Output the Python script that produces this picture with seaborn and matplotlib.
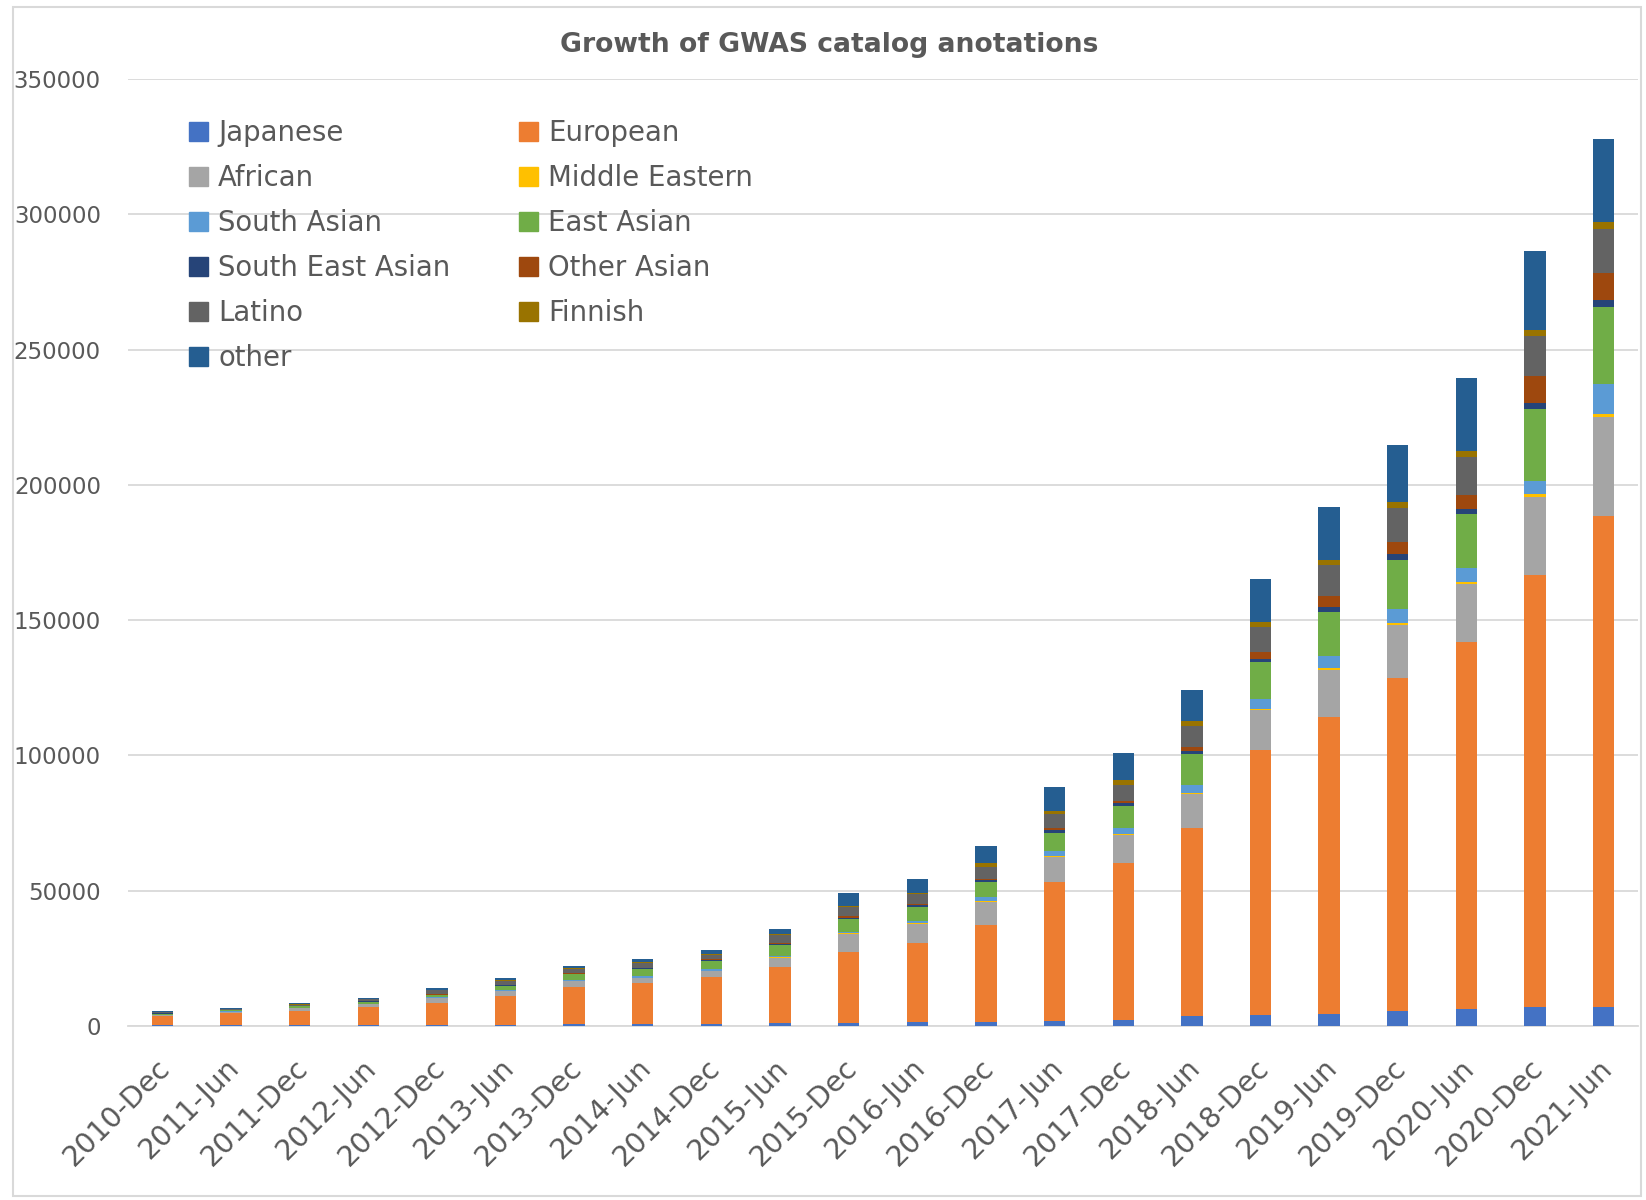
import numpy as np
import pandas as pd
import matplotlib
matplotlib.use("Agg")
import matplotlib.pyplot as plt
import matplotlib.patches as mpatches
from matplotlib.transforms import ScaledTranslation
import seaborn as sns

# Release dates of the catalog snapshots
periods = ["2010-Dec", "2011-Jun", "2011-Dec", "2012-Jun", "2012-Dec", "2013-Jun",
           "2013-Dec", "2014-Jun", "2014-Dec", "2015-Jun", "2015-Dec", "2016-Jun",
           "2016-Dec", "2017-Jun", "2017-Dec", "2018-Jun", "2018-Dec", "2019-Jun",
           "2019-Dec", "2020-Jun", "2020-Dec", "2021-Jun"]

# Annotation counts per ancestry group (stacked bottom to top)
japanese = [200, 250, 300, 350, 400, 500, 600, 650, 900, 1200, 1200, 1350, 1500, 1700,
            2100, 3700, 4060, 4430, 5420, 6170, 6900, 7000]
european = [3500, 4450, 5400, 6800, 8200, 10700, 13900, 15150, 17100, 20500, 26000,
            29450, 35900, 51400, 58000, 69300, 98040, 109870, 123080, 135730, 159700, 181400]
african = [400, 600, 800, 850, 1750, 1850, 2100, 2000, 2200, 3500, 6900, 6900, 8400, 9200,
           10500, 12600, 14700, 17400, 19800, 21500, 29000, 36700]
middle_eastern = [50, 50, 50, 50, 50, 50, 100, 100, 100, 200, 200, 400, 400, 400, 500, 500,
                  400, 700, 700, 800, 1000, 1000]
south_asian = [100, 150, 150, 200, 250, 350, 300, 400, 800, 300, 500, 700, 1300, 2000, 2200,
               3100, 3600, 4400, 5000, 4900, 4800, 11100]
east_asian = [350, 400, 600, 750, 850, 1450, 2100, 2900, 3000, 4100, 4700, 5000, 5700, 6800,
              8100, 11300, 13700, 16200, 18200, 20000, 26800, 28600]
south_east_asian = [50, 50, 50, 100, 100, 150, 200, 200, 300, 500, 600, 800, 800, 1000, 900,
                    1100, 1100, 1900, 2200, 2000, 2200, 2400]
other_asian = [50, 50, 50, 100, 100, 200, 200, 200, 200, 300, 400, 500, 400, 800, 700, 1500,
               2500, 4000, 4400, 5100, 9800, 10000]
latino = [300, 300, 450, 600, 1500, 1450, 1600, 1700, 1700, 3000, 3500, 3700, 4500, 5000,
          6200, 7900, 9400, 11600, 12800, 14200, 14900, 16400]
finnish = [50, 50, 100, 100, 150, 200, 200, 200, 300, 300, 300, 200, 1300, 1200, 1800, 1700,
           1900, 1900, 2100, 2200, 2100, 2500]
other = [350, 350, 450, 500, 650, 700, 1000, 1100, 1600, 1800, 4800, 5300, 6400, 9000, 9900,
         11500, 15900, 19500, 21000, 26900, 29300, 30900]

series_names = ["Japanese", "European", "African", "Middle Eastern", "South Asian",
                "East Asian", "South East Asian", "Other Asian", "Latino", "Finnish", "other"]
series_values = [japanese, european, african, middle_eastern, south_asian, east_asian,
                 south_east_asian, other_asian, latino, finnish, other]
series_colors = ["#4472C4", "#ED7D31", "#A5A5A5", "#FFC000", "#5B9BD5", "#70AD47",
                 "#264478", "#9E480E", "#636363", "#997300", "#255E91"]

y_ticks = [0, 50000, 100000, 150000, 200000, 250000, 300000, 350000]

TEXT = "#595959"
GRID = "#D9D9D9"

sns.set_theme(style="white")
plt.rcParams["font.family"] = ["DejaVu Sans"]

W, H = 1646, 1200
fig = plt.figure(figsize=(W / 100, H / 100), dpi=100)
ax = fig.add_axes([128 / W, 1 - 1026 / H, 1510 / W, (1026 - 79) / H])

df = pd.DataFrame(dict(zip(series_names, series_values)))
df.insert(0, "period", periods)
cumulative = df[series_names].cumsum(axis=1)

# Stacked bars: draw running totals from the top layer down so each layer covers the rest
for name, color in reversed(list(zip(series_names, series_colors))):
    sns.barplot(x=df["period"], y=cumulative[name], color=color, saturation=1,
                width=0.31, errorbar=None, ax=ax, zorder=3, linewidth=0)

ax.set_xlim(-0.5, len(periods) - 0.5)
ax.set_ylim(0, 350000)
ax.set_yticks(y_ticks)
ax.set_yticklabels([str(v) for v in y_ticks])
ax.set_xlabel("")
ax.set_ylabel("")

ax.yaxis.grid(True, color=GRID, linewidth=1.3, zorder=0)
ax.xaxis.grid(False)
for side in ["top", "right", "left"]:
    ax.spines[side].set_visible(False)
ax.spines["bottom"].set_color(GRID)
ax.spines["bottom"].set_linewidth(1.3)

ax.tick_params(axis="y", length=0, pad=19.5, labelsize=16.5, labelcolor=TEXT)
ax.tick_params(axis="x", length=0, pad=27, labelsize=20.5, labelcolor=TEXT)
shift = ScaledTranslation(4 / 100, 0, fig.dpi_scale_trans)
for lab in ax.get_xticklabels():
    lab.set_rotation(45)
    lab.set_ha("right")
    lab.set_va("center")
    lab.set_rotation_mode("anchor")
    lab.set_transform(lab.get_transform() + shift)

# Legend: two columns filled row by row
handles = [mpatches.Patch(color=c, label=n) for n, c in zip(series_names, series_colors)]
order = [0, 2, 4, 6, 8, 10, 1, 3, 5, 7, 9]
leg = fig.legend([handles[i] for i in order], [series_names[i] for i in order],
                 loc="upper left", bbox_to_anchor=(189 / W, 1 - 119 / H), ncol=2,
                 frameon=False, fontsize=19.8, handlelength=0.7, handleheight=0.7,
                 handletextpad=0.36, columnspacing=2.5, labelspacing=0.62,
                 borderpad=0, borderaxespad=0)
for t in leg.get_texts():
    t.set_color(TEXT)

fig.text(829 / W, 1 - 45 / H, "Growth of GWAS catalog anotations", ha="center",
         va="center", fontsize=19.2, fontweight="bold", color=TEXT)

# Light frame around the whole chart
fig.patches.append(mpatches.Rectangle((13 / W, 1 - 1196 / H), (1641 - 13) / W,
                                      (1196 - 7) / H, transform=fig.transFigure,
                                      fill=False, edgecolor=GRID, linewidth=1.5))

fig.savefig("out.png", dpi=100, facecolor="white")
